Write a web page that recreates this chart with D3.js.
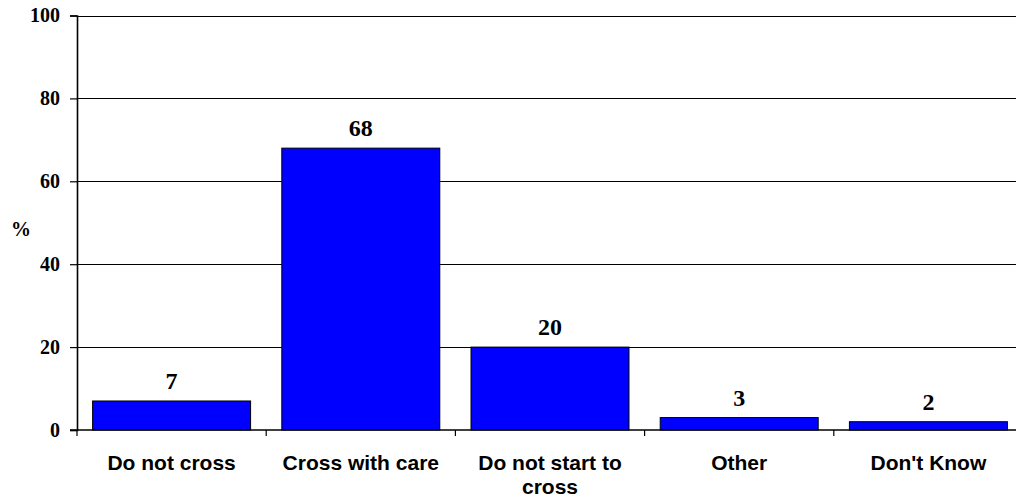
<!DOCTYPE html>
<html>
<head>
<meta charset="utf-8">
<script src="https://cdn.jsdelivr.net/npm/d3@7"></script>
<style>
  html, body { margin: 0; padding: 0; background: #fff; }
  svg { display: block; }
</style>
</head>
<body>
<svg id="chart" width="1016" height="501"></svg>
<script>
const categories = [["Do not cross"], ["Cross with care"], ["Do not start to", "cross"], ["Other"], ["Don't Know"]];
const values = [7, 68, 20, 3, 2];
const yTicks = [0, 20, 40, 60, 80, 100];
const yLabel = "%";

(function () {
const svg = d3.select("#chart");
const pLeft = 77, pRight = 1023, pTop = 15.5, pBottom = 430;

const x = d3.scaleBand()
  .domain(d3.range(categories.length))
  .range([pLeft, pRight])
  .paddingInner(0.165)
  .paddingOuter(0.0825);

const y = d3.scaleLinear().domain([0, 100]).range([pBottom, pTop]);

// gridlines
svg.append("g").selectAll("line")
  .data(yTicks.filter(d => d > 0))
  .join("line")
  .attr("x1", pLeft).attr("x2", 1016)
  .attr("y1", d => Math.round(y(d)) + 0.5).attr("y2", d => Math.round(y(d)) + 0.5)
  .attr("stroke", "#000").attr("stroke-width", 1.2);

// bars
svg.append("g").selectAll("rect")
  .data(values)
  .join("rect")
  .attr("x", (d, i) => x(i))
  .attr("y", d => y(d))
  .attr("width", x.bandwidth())
  .attr("height", d => pBottom - y(d))
  .attr("fill", "#0000FF")
  .attr("stroke", "#000")
  .attr("stroke-width", 1);

// value labels
svg.append("g").selectAll("text")
  .data(values)
  .join("text")
  .attr("x", (d, i) => x(i) + x.bandwidth() / 2)
  .attr("y", d => y(d) - 12)
  .attr("text-anchor", "middle")
  .attr("font-family", "'Liberation Serif', 'Times New Roman', serif")
  .attr("font-weight", "bold")
  .attr("font-size", 24)
  .attr("fill", "#000")
  .text(d => d);

// y axis
const yAxis = d3.axisLeft(y).tickValues(yTicks).tickSize(7).tickPadding(10).tickFormat(d3.format("d"));
const gy = svg.append("g").attr("transform", `translate(${pLeft},0)`).call(yAxis);
gy.select(".domain").attr("stroke", "#000").attr("stroke-width", 1.6);
gy.selectAll(".tick line").attr("stroke", "#000").attr("stroke-width", 1.2);
gy.selectAll(".tick text")
  .attr("font-family", "'Liberation Serif', 'Times New Roman', serif")
  .attr("font-weight", "bold")
  .attr("font-size", 20)
  .attr("fill", "#000");

// x axis baseline
svg.append("line")
  .attr("x1", pLeft - 7).attr("x2", 1016)
  .attr("y1", pBottom).attr("y2", pBottom)
  .attr("stroke", "#000").attr("stroke-width", 1.6);

// category boundary ticks
const boundaries = d3.range(categories.length + 1).map(i => pLeft + i * x.step());
svg.append("g").selectAll("line")
  .data(boundaries)
  .join("line")
  .attr("x1", d => d).attr("x2", d => d)
  .attr("y1", pBottom).attr("y2", pBottom + 6)
  .attr("stroke", "#000").attr("stroke-width", 1.2);

// category labels
const cl = svg.append("g").selectAll("text")
  .data(categories)
  .join("text")
  .attr("x", (d, i) => x(i) + x.bandwidth() / 2)
  .attr("y", 470)
  .attr("text-anchor", "middle")
  .attr("font-family", "'Liberation Sans', Arial, sans-serif")
  .attr("font-weight", "bold")
  .attr("font-size", 21)
  .attr("fill", "#000");
cl.selectAll("tspan")
  .data(d => d)
  .join("tspan")
  .attr("x", function() { return d3.select(this.parentNode).attr("x"); })
  .attr("dy", (d, i) => i === 0 ? 0 : 24)
  .text(d => d);

// y label
svg.append("text")
  .attr("x", 21).attr("y", 236)
  .attr("text-anchor", "middle")
  .attr("font-family", "'Liberation Serif', 'Times New Roman', serif")
  .attr("font-weight", "bold")
  .attr("font-size", 20)
  .attr("fill", "#000")
  .text(yLabel);
})();
</script>
</body>
</html>
